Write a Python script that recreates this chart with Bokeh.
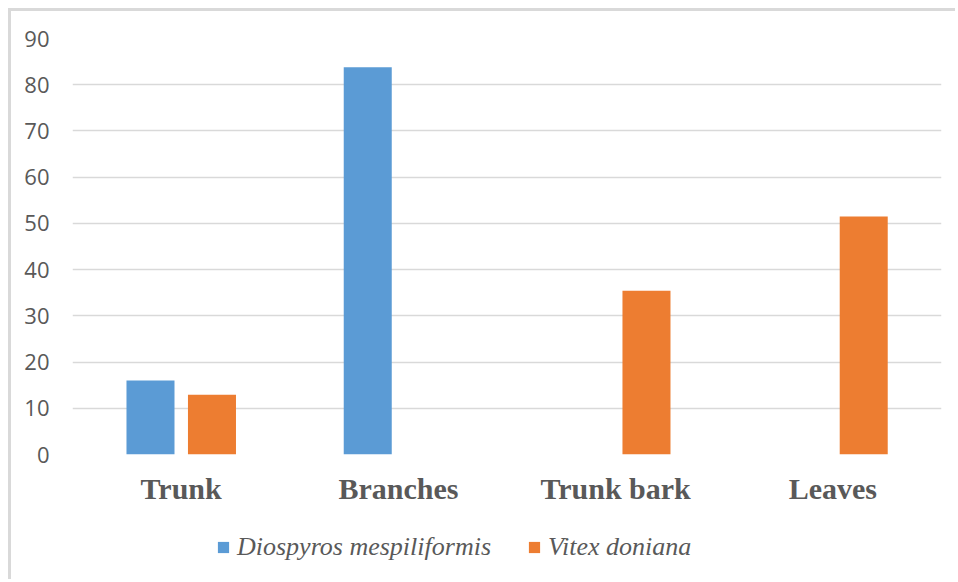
from bokeh.plotting import figure
from bokeh.layouts import column
from bokeh.models import (ColumnDataSource, FactorRange, Legend, LegendItem,
                          SingleIntervalTicker, Range1d)
from bokeh.transform import dodge
from bokeh.embed import file_html
from bokeh.resources import INLINE

# Share of biomass by plant organ for each species (%)
organs = ["Trunk", "Branches", "Trunk bark", "Leaves"]
diospyros = [16.0, 83.8, 0.0, 0.0]
vitex = [12.9, 0.0, 35.4, 51.5]
series_names = ["Diospyros mespiliformis", "Vitex doniana"]

BLUE = "#5B9BD5"
ORANGE = "#ED7D31"
GREY_TEXT = "#595959"
GRID = "#D9D9D9"

src = ColumnDataSource(dict(organ=organs, dio=diospyros, vit=vitex))

# ---- main bar chart -------------------------------------------------------
p = figure(
    x_range=FactorRange(*organs, range_padding=0),
    y_range=(0, 90),
    width=947, height=503,
    output_backend="svg", toolbar_location=None,
    min_border_left=61, min_border_right=17,
    min_border_top=27, min_border_bottom=60,
    outline_line_color=None,
)
# light frame along the left and top edges of the chart
p.styles = {
    "margin-left": "8px", "margin-top": "8px",
    "border-left": f"3px solid {GRID}", "border-top": f"3px solid {GRID}",
}

p.vbar(x=dodge("organ", -0.141, range=p.x_range), top="dio", width=0.221,
       source=src, fill_color=BLUE, line_color=None)
p.vbar(x=dodge("organ", 0.142, range=p.x_range), top="vit", width=0.221,
       source=src, fill_color=ORANGE, line_color=None)

# y axis: labels only, light horizontal grid every 10
p.yaxis.ticker = SingleIntervalTicker(interval=10)
p.yaxis.axis_line_color = None
p.yaxis.major_tick_line_color = None
p.yaxis.minor_tick_line_color = None
p.yaxis.major_tick_out = 0
p.yaxis.major_label_standoff = 19
p.yaxis.major_label_text_font = "Open Sans"
p.yaxis.major_label_text_font_size = "22px"
p.yaxis.major_label_text_color = GREY_TEXT
p.ygrid.grid_line_color = GRID
p.ygrid.grid_line_width = 1.5
p.xgrid.grid_line_color = None

# x axis: bold serif category names
p.xaxis.axis_line_color = None
p.xaxis.major_tick_line_color = None
p.xaxis.major_tick_out = 0
p.xaxis.major_label_standoff = 17
p.xaxis.major_label_text_font = "Liberation Serif"
p.xaxis.major_label_text_font_style = "bold"
p.xaxis.major_label_text_font_size = "30px"
p.xaxis.major_label_text_color = GREY_TEXT

# ---- legend strip under the chart -----------------------------------------
# Same series drawn again, but the strip's y range sits far above the data,
# so only the legend entries built from these renderers are visible.
leg = figure(
    x_range=FactorRange(*organs, range_padding=0),
    y_range=Range1d(1000, 1001),
    width=947, height=68,
    output_backend="svg", toolbar_location=None,
    x_axis_location=None, y_axis_location=None,
    min_border=0, outline_line_color=None,
)
leg.grid.visible = False
leg.styles = {"margin-left": "8px", "border-left": f"3px solid {GRID}"}

sw_blue = leg.vbar(x=dodge("organ", -0.141, range=leg.x_range), top="dio",
                   width=0.221, source=src, fill_color=BLUE, line_color=None)
sw_orange = leg.vbar(x=dodge("organ", 0.142, range=leg.x_range), top="vit",
                     width=0.221, source=src, fill_color=ORANGE, line_color=None)

legend = Legend(
    items=[LegendItem(label=series_names[0], renderers=[sw_blue]),
           LegendItem(label=series_names[1], renderers=[sw_orange])],
    orientation="horizontal", location=(144, 17),
    label_text_font="Liberation Serif", label_text_font_style="italic",
    label_text_font_size="26px", label_text_color=GREY_TEXT,
    glyph_width=14, glyph_height=14, label_standoff=7, spacing=36,
    border_line_color=None, background_fill_alpha=0,
    margin=0, padding=4,
)
leg.add_layout(legend, "center")

layout = column(p, leg, spacing=0)
open("out.html", "w").write(file_html(layout, INLINE))
